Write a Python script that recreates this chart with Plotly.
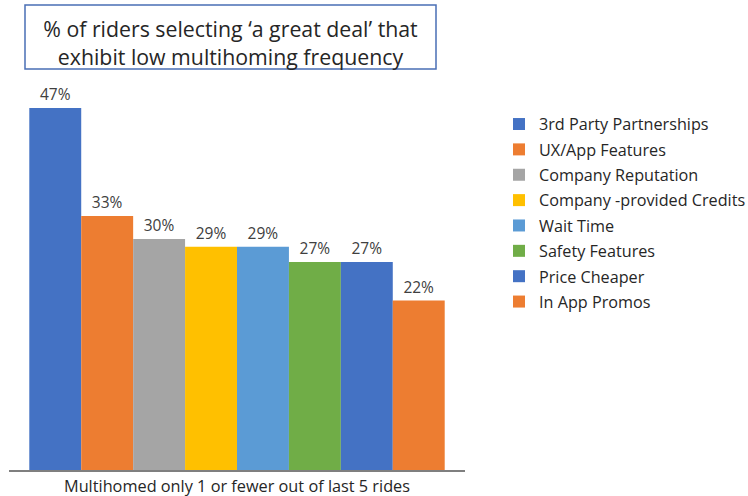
import plotly.graph_objects as go

# Survey categories, shares and bar colours
factors = [
    "3rd Party Partnerships",
    "UX/App Features",
    "Company Reputation",
    "Company -provided Credits",
    "Wait Time",
    "Safety Features",
    "Price Cheaper",
    "In App Promos",
]
shares = [47, 33, 30, 29, 29, 27, 27, 22]
colors = ["#4472C4", "#ED7D31", "#A5A5A5", "#FFC000",
          "#5B9BD5", "#70AD47", "#4472C4", "#ED7D31"]
group_label = ["Multihomed only 1 or fewer out of last 5 rides"]

FONT = "'Open Sans', 'Noto Sans', sans-serif"
W, H = 748, 496
ML, MR, MT, MB = 9, 283, 80, 26

fig = go.Figure()
for name, val, col in zip(factors, shares, colors):
    fig.add_trace(go.Bar(
        x=group_label,
        y=[val],
        name=name,
        marker=dict(color=col, line=dict(width=0)),
        text=[f"{val}%"],
        textposition="outside",
        textfont=dict(size=15.5, color="#404040", family=FONT),
        cliponaxis=False,
        legendgroup=name,
    ))

plot_h = H - MT - MB
fig.update_layout(
    width=W, height=H,
    margin=dict(l=ML, r=MR, t=MT, b=MB),
    paper_bgcolor="white", plot_bgcolor="white",
    barmode="group", bargap=0.089, bargroupgap=0,
    font=dict(family=FONT, color="#404040"),
    title=dict(
        text="% of riders selecting \u2018a great deal\u2019 that<br>exhibit low multihoming frequency",
        x=230.5 / W, xanchor="center", xref="container",
        y=1 - 37 / H, yanchor="middle", yref="container",
        font=dict(size=21.3, color="#262626", family=FONT),
    ),
    xaxis=dict(
        showline=True, linecolor="#7F7F7F", linewidth=1.5,
        ticks="", showgrid=False, zeroline=False,
        tickfont=dict(size=16.3, color="#262626", family=FONT),
        ticklabelstandoff=1, automargin=False,
    ),
    yaxis=dict(
        range=[0, plot_h / 7.70], visible=False, showgrid=False, zeroline=False,
        automargin=False,
    ),
    legend=dict(
        xref="container", yref="container",
        x=499 / W, xanchor="left",
        y=1 - 107 / H, yanchor="top",
        font=dict(size=16.2, color="#262626", family=FONT),
        tracegroupgap=1.3,
        bgcolor="rgba(0,0,0,0)",
    ),
    showlegend=True,
)

# Frame around the heading
pw = W - ML - MR
fig.add_shape(
    type="rect", xref="paper", yref="paper",
    x0=(25 - ML) / pw, x1=(436 - ML) / pw,
    y0=(H - MB - 69) / plot_h, y1=(H - MB - 5) / plot_h,
    line=dict(color="#4A6FB5", width=1.5), fillcolor="rgba(0,0,0,0)",
    layer="above",
)

fig.write_html("out.html")
